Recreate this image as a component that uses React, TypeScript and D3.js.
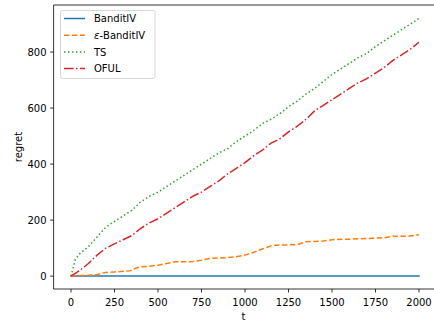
import React from "react";
import * as d3 from "d3";

const W = 434;
const H = 325;

const seriesNames = ["BanditIV", "ε-BanditIV", "TS", "OFUL"];
const colors = ["#1f77b4", "#ff7f0e", "#2ca02c", "#d62728"];
const dashes = ["", "5.55,2.4", "1.5,2.475", "9.6,2.4,1.5,2.4"];

const xTicks = [0, 250, 500, 750, 1000, 1250, 1500, 1750, 2000];
const yTicks = [0, 200, 400, 600, 800];

const banditT = [0, 2000];
const banditV = [0, 0];

const epsT = [0, 50, 100, 150, 175, 200, 250, 300, 340, 370, 400, 450, 500, 550, 600, 650, 700, 750, 800, 900, 950, 1000, 1050, 1100, 1150, 1200, 1300, 1350, 1450, 1500, 1600, 1700, 1800, 1850, 1950, 2000];
const epsV = [0, 2, 3, 5, 10, 13, 15, 17, 19, 28, 33, 35, 39, 45, 51, 51, 52, 57, 63, 66, 69, 75, 85, 97, 108, 111, 112, 123, 125, 130, 132, 134, 137, 142, 143, 148];

const tsT = [0, 25, 50, 100, 150, 200, 250, 300, 350, 400, 450, 500, 550, 600, 650, 700, 750, 800, 850, 900, 950, 1000, 1050, 1100, 1150, 1200, 1250, 1300, 1350, 1400, 1450, 1500, 1550, 1600, 1650, 1700, 1750, 1800, 1850, 1900, 1950, 2000];
const tsV = [0, 60, 80, 105, 140, 175, 195, 215, 235, 265, 285, 300, 320, 340, 360, 380, 400, 420, 440, 455, 480, 500, 520, 545, 560, 580, 605, 625, 650, 670, 695, 720, 740, 760, 780, 795, 820, 840, 860, 880, 900, 920];

const ofulT = [0, 50, 100, 150, 200, 250, 300, 350, 400, 450, 500, 550, 600, 650, 700, 750, 800, 850, 900, 950, 1000, 1050, 1100, 1150, 1200, 1250, 1300, 1350, 1400, 1450, 1500, 1550, 1600, 1650, 1700, 1750, 1800, 1850, 1900, 1950, 2000];
const ofulV = [0, 20, 45, 75, 100, 115, 130, 145, 170, 190, 205, 225, 245, 265, 285, 300, 320, 340, 365, 385, 405, 430, 450, 475, 490, 515, 535, 560, 590, 610, 630, 650, 670, 690, 705, 725, 745, 770, 790, 810, 835];

const allT = [banditT, epsT, tsT, ofulT];
const allV = [banditV, epsV, tsV, ofulV];

export default function App() {
  const left = 53.6;
  const right = 436.4;
  const top = 5;
  const bottom = 289;
  const x = d3.scaleLinear().domain([-100, 2100]).range([left, right]);
  const y = d3.scaleLinear().domain([-46, 968]).range([bottom, top]);
  const line = d3
    .line<[number, number]>()
    .x((d) => x(d[0]))
    .y((d) => y(d[1]));
  const font = "DejaVu Sans, sans-serif";

  return (
    <svg
      width={W}
      height={H}
      style={{ position: "absolute", left: 0, top: 0, background: "#fff" }}
      fontFamily={font}
    >
      <rect x={0} y={0} width={W} height={H} fill="#fff" />
      <defs>
        <clipPath id="plot">
          <rect x={left} y={top} width={right - left} height={bottom - top} />
        </clipPath>
      </defs>
      <g clipPath="url(#plot)">
        {allT.map((ts, i) => (
          <path
            key={i}
            d={line(ts.map((t, j) => [t, allV[i][j]] as [number, number])) || ""}
            fill="none"
            stroke={colors[i]}
            strokeWidth={1.5}
            strokeDasharray={dashes[i] || undefined}
            strokeLinecap={i === 0 ? "square" : "butt"}
            strokeLinejoin="round"
          />
        ))}
      </g>
      {/* spines */}
      <line x1={left} x2={left} y1={top} y2={bottom} stroke="#000" strokeWidth={0.8} />
      <line x1={left} x2={right} y1={bottom} y2={bottom} stroke="#000" strokeWidth={0.8} />
      <line x1={left} x2={right} y1={top} y2={top} stroke="#000" strokeWidth={0.8} />
      <line x1={right} x2={right} y1={top} y2={bottom} stroke="#000" strokeWidth={0.8} />
      {/* x ticks */}
      {xTicks.map((t) => (
        <g key={t}>
          <line x1={x(t)} x2={x(t)} y1={bottom} y2={bottom + 3.5} stroke="#000" strokeWidth={0.8} />
          <text x={x(t)} y={bottom + 17} fontSize={10} textAnchor="middle" fill="#000">
            {t}
          </text>
        </g>
      ))}
      {/* y ticks */}
      {yTicks.map((v) => (
        <g key={v}>
          <line x1={left - 3.5} x2={left} y1={y(v)} y2={y(v)} stroke="#000" strokeWidth={0.8} />
          <text x={left - 7} y={y(v) + 3.6} fontSize={10} textAnchor="end" fill="#000">
            {v}
          </text>
        </g>
      ))}
      <text x={(left + right) / 2 - 1.5} y={bottom + 30.5} fontSize={10} textAnchor="middle" fill="#000">
        t
      </text>
      <text
        transform={`translate(${22},${(top + bottom) / 2}) rotate(-90)`}
        fontSize={10}
        textAnchor="middle"
        fill="#000"
      >
        regret
      </text>
      {/* legend */}
      <rect x={60.5} y={10.5} width={94.5} height={68} rx={2} fill="#fff" fillOpacity={0.8} stroke="#cccccc" strokeWidth={0.8} />
      {seriesNames.map((name, i) => {
        const ly = 18.5 + i * 16.7;
        return (
          <g key={name}>
            <line
              x1={64}
              x2={85}
              y1={ly}
              y2={ly}
              stroke={colors[i]}
              strokeWidth={1.5}
              strokeDasharray={dashes[i] || undefined}
            />
            <text x={94} y={ly + 3.6} fontSize={10} fill="#000">
              {i === 1 ? (
                <>
                  <tspan fontStyle="italic">ε</tspan>
                  {"-BanditIV"}
                </>
              ) : (
                name
              )}
            </text>
          </g>
        );
      })}
    </svg>
  );
}
